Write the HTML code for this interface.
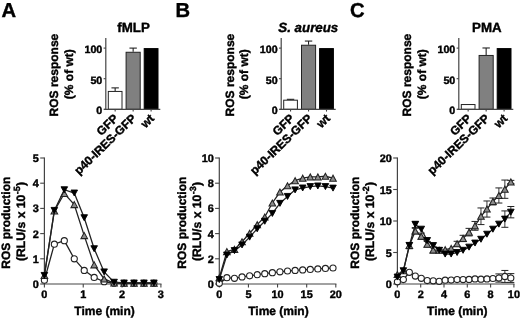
<!DOCTYPE html>
<html><head><meta charset="utf-8"><title>ROS production</title>
<style>html,body{margin:0;padding:0;background:#fff;overflow:hidden}svg{display:block;will-change:transform;filter:grayscale(1)}text{stroke:#000;stroke-width:.4px;text-rendering:geometricPrecision}</style></head>
<body>
<svg width="520" height="320" viewBox="0 0 520 320" font-family='"Liberation Sans", sans-serif' font-weight="bold" fill="#000">
<rect width="520" height="320" fill="#fff"/>
<text x="1.60" y="17.00" font-size="20.2" text-anchor="start">A</text>
<text x="133.50" y="32.40" font-size="13.3" text-anchor="middle">fMLP</text>
<text x="58.30" y="75.10" font-size="12" text-anchor="middle" transform="rotate(-90 58.30 75.10)">ROS response</text>
<text x="72.80" y="74.20" font-size="12" text-anchor="middle" transform="rotate(-90 72.80 74.20)">(% of wt)</text>
<line x1="115.15" y1="90.94" x2="115.15" y2="87.88" stroke="#222" stroke-width="1.1"/>
<line x1="111.45" y1="87.88" x2="118.85" y2="87.88" stroke="#222" stroke-width="1.1"/>
<rect x="108.30" y="91.44" width="13.70" height="17.86" fill="#ffffff" stroke="#222" stroke-width="1"/>
<line x1="115.15" y1="109.30" x2="115.15" y2="111.60" stroke="#444" stroke-width="1.1"/>
<line x1="133.15" y1="51.77" x2="133.15" y2="48.10" stroke="#222" stroke-width="1.1"/>
<line x1="129.45" y1="48.10" x2="136.85" y2="48.10" stroke="#222" stroke-width="1.1"/>
<rect x="126.10" y="52.27" width="14.10" height="57.03" fill="#808080" stroke="#222" stroke-width="1"/>
<line x1="133.15" y1="109.30" x2="133.15" y2="111.60" stroke="#444" stroke-width="1.1"/>
<rect x="144.20" y="48.60" width="13.80" height="60.70" fill="#000000" stroke="#000" stroke-width="1"/>
<line x1="151.10" y1="109.30" x2="151.10" y2="111.60" stroke="#444" stroke-width="1.1"/>
<line x1="105.80" y1="37.90" x2="105.80" y2="109.80" stroke="#444" stroke-width="1.2"/>
<line x1="104.30" y1="109.30" x2="160.30" y2="109.30" stroke="#444" stroke-width="1.2"/>
<line x1="103.60" y1="109.30" x2="105.80" y2="109.30" stroke="#444" stroke-width="1.1"/>
<text x="102.30" y="114.30" font-size="10.7" text-anchor="end">0</text>
<line x1="103.60" y1="78.70" x2="105.80" y2="78.70" stroke="#444" stroke-width="1.1"/>
<text x="102.30" y="83.70" font-size="10.7" text-anchor="end">50</text>
<line x1="103.60" y1="48.10" x2="105.80" y2="48.10" stroke="#444" stroke-width="1.1"/>
<text x="102.30" y="53.10" font-size="10.7" text-anchor="end">100</text>
<text x="118.95" y="119.30" font-size="11.9" text-anchor="end" transform="rotate(-44 118.95 119.30)">GFP</text>
<text x="136.95" y="119.30" font-size="11.9" text-anchor="end" transform="rotate(-44 136.95 119.30)">p40-IRES-GFP</text>
<text x="154.90" y="119.30" font-size="11.9" text-anchor="end" transform="rotate(-44 154.90 119.30)">wt</text>
<text x="10.30" y="222.65" font-size="12" text-anchor="middle" transform="rotate(-90 10.30 222.65)">ROS production</text>
<text x="24.70" y="261.0" font-size="12.2" text-anchor="start" transform="rotate(-90 24.70 261.0)">(RLU/s x 10<tspan font-size="9" dx="0.3" dy="-4.7">-5</tspan><tspan dx="0.4" dy="4.7">)</tspan></text>
<text x="104.55" y="315.40" font-size="12" text-anchor="middle">Time (min)</text>
<line x1="44.40" y1="157.40" x2="44.40" y2="284.60" stroke="#444" stroke-width="1.2"/>
<line x1="44.40" y1="284.00" x2="161.50" y2="284.00" stroke="#444" stroke-width="1.2"/>
<line x1="40.20" y1="284.00" x2="44.40" y2="284.00" stroke="#444" stroke-width="1.1"/>
<text x="38.90" y="288.00" font-size="10.9" text-anchor="end">0</text>
<line x1="40.20" y1="258.80" x2="44.40" y2="258.80" stroke="#444" stroke-width="1.1"/>
<text x="38.90" y="262.80" font-size="10.9" text-anchor="end">1</text>
<line x1="40.20" y1="233.60" x2="44.40" y2="233.60" stroke="#444" stroke-width="1.1"/>
<text x="38.90" y="237.60" font-size="10.9" text-anchor="end">2</text>
<line x1="40.20" y1="208.40" x2="44.40" y2="208.40" stroke="#444" stroke-width="1.1"/>
<text x="38.90" y="212.40" font-size="10.9" text-anchor="end">3</text>
<line x1="40.20" y1="183.20" x2="44.40" y2="183.20" stroke="#444" stroke-width="1.1"/>
<text x="38.90" y="187.20" font-size="10.9" text-anchor="end">4</text>
<line x1="40.20" y1="158.00" x2="44.40" y2="158.00" stroke="#444" stroke-width="1.1"/>
<text x="38.90" y="162.00" font-size="10.9" text-anchor="end">5</text>
<line x1="44.40" y1="284.00" x2="44.40" y2="287.40" stroke="#444" stroke-width="1.1"/>
<text x="44.40" y="298.30" font-size="10.9" text-anchor="middle">0</text>
<line x1="83.23" y1="284.00" x2="83.23" y2="287.40" stroke="#444" stroke-width="1.1"/>
<text x="83.23" y="298.30" font-size="10.9" text-anchor="middle">1</text>
<line x1="122.07" y1="284.00" x2="122.07" y2="287.40" stroke="#444" stroke-width="1.1"/>
<text x="122.07" y="298.30" font-size="10.9" text-anchor="middle">2</text>
<line x1="160.90" y1="284.00" x2="160.90" y2="287.40" stroke="#444" stroke-width="1.1"/>
<text x="160.90" y="298.30" font-size="10.9" text-anchor="middle">3</text>
<polyline points="44.40,280.22 54.35,244.18 64.31,240.66 74.27,258.80 84.22,270.39 94.17,277.45 104.13,281.73 114.09,283.24 124.04,283.24 134.00,283.24 143.95,283.24 153.91,283.24" fill="none" stroke="#222" stroke-width="1.3"/>
<circle cx="44.40" cy="280.22" r="3.05" fill="#fff" stroke="#222" stroke-width="1.1"/>
<circle cx="54.35" cy="244.18" r="3.05" fill="#fff" stroke="#222" stroke-width="1.1"/>
<circle cx="64.31" cy="240.66" r="3.05" fill="#fff" stroke="#222" stroke-width="1.1"/>
<circle cx="74.27" cy="258.80" r="3.05" fill="#fff" stroke="#222" stroke-width="1.1"/>
<circle cx="84.22" cy="270.39" r="3.05" fill="#fff" stroke="#222" stroke-width="1.1"/>
<circle cx="94.17" cy="277.45" r="3.05" fill="#fff" stroke="#222" stroke-width="1.1"/>
<circle cx="104.13" cy="281.73" r="3.05" fill="#fff" stroke="#222" stroke-width="1.1"/>
<circle cx="114.09" cy="283.24" r="3.05" fill="#fff" stroke="#222" stroke-width="1.1"/>
<circle cx="124.04" cy="283.24" r="3.05" fill="#fff" stroke="#222" stroke-width="1.1"/>
<circle cx="134.00" cy="283.24" r="3.05" fill="#fff" stroke="#222" stroke-width="1.1"/>
<circle cx="143.95" cy="283.24" r="3.05" fill="#fff" stroke="#222" stroke-width="1.1"/>
<circle cx="153.91" cy="283.24" r="3.05" fill="#fff" stroke="#222" stroke-width="1.1"/>
<polyline points="44.40,275.43 54.35,210.92 64.31,193.53 74.27,204.62 84.22,235.62 94.17,264.85 104.13,278.96 114.09,282.99 124.04,283.24 134.00,283.24 143.95,283.24 153.91,283.24" fill="none" stroke="#222" stroke-width="1.3"/>
<polygon points="44.40,272.43 41.10,278.43 47.70,278.43" fill="#8c8c8c" stroke="#222" stroke-width="1.05" stroke-linejoin="miter"/>
<polygon points="54.35,207.92 51.05,213.92 57.65,213.92" fill="#8c8c8c" stroke="#222" stroke-width="1.05" stroke-linejoin="miter"/>
<polygon points="64.31,190.53 61.01,196.53 67.61,196.53" fill="#8c8c8c" stroke="#222" stroke-width="1.05" stroke-linejoin="miter"/>
<polygon points="74.27,201.62 70.97,207.62 77.56,207.62" fill="#8c8c8c" stroke="#222" stroke-width="1.05" stroke-linejoin="miter"/>
<polygon points="84.22,232.62 80.92,238.62 87.52,238.62" fill="#8c8c8c" stroke="#222" stroke-width="1.05" stroke-linejoin="miter"/>
<polygon points="94.17,261.85 90.88,267.85 97.47,267.85" fill="#8c8c8c" stroke="#222" stroke-width="1.05" stroke-linejoin="miter"/>
<polygon points="104.13,275.96 100.83,281.96 107.43,281.96" fill="#8c8c8c" stroke="#222" stroke-width="1.05" stroke-linejoin="miter"/>
<polygon points="114.09,279.99 110.79,285.99 117.39,285.99" fill="#8c8c8c" stroke="#222" stroke-width="1.05" stroke-linejoin="miter"/>
<polygon points="124.04,280.24 120.74,286.24 127.34,286.24" fill="#8c8c8c" stroke="#222" stroke-width="1.05" stroke-linejoin="miter"/>
<polygon points="134.00,280.24 130.69,286.24 137.30,286.24" fill="#8c8c8c" stroke="#222" stroke-width="1.05" stroke-linejoin="miter"/>
<polygon points="143.95,280.24 140.65,286.24 147.25,286.24" fill="#8c8c8c" stroke="#222" stroke-width="1.05" stroke-linejoin="miter"/>
<polygon points="153.91,280.24 150.60,286.24 157.21,286.24" fill="#8c8c8c" stroke="#222" stroke-width="1.05" stroke-linejoin="miter"/>
<polyline points="44.40,275.43 54.35,210.42 64.31,189.75 74.27,193.03 84.22,217.72 94.17,248.72 104.13,271.90 114.09,282.24 124.04,282.99 134.00,282.99 143.95,282.99 153.91,282.99" fill="none" stroke="#222" stroke-width="1.3"/>
<polygon points="44.40,278.43 41.10,272.43 47.70,272.43" fill="#000" stroke="#000" stroke-width="0.9"/>
<polygon points="54.35,213.42 51.05,207.42 57.65,207.42" fill="#000" stroke="#000" stroke-width="0.9"/>
<polygon points="64.31,192.75 61.01,186.75 67.61,186.75" fill="#000" stroke="#000" stroke-width="0.9"/>
<polygon points="74.27,196.03 70.97,190.03 77.56,190.03" fill="#000" stroke="#000" stroke-width="0.9"/>
<polygon points="84.22,220.72 80.92,214.72 87.52,214.72" fill="#000" stroke="#000" stroke-width="0.9"/>
<polygon points="94.17,251.72 90.88,245.72 97.47,245.72" fill="#000" stroke="#000" stroke-width="0.9"/>
<polygon points="104.13,274.90 100.83,268.90 107.43,268.90" fill="#000" stroke="#000" stroke-width="0.9"/>
<polygon points="114.09,285.24 110.79,279.24 117.39,279.24" fill="#000" stroke="#000" stroke-width="0.9"/>
<polygon points="124.04,285.99 120.74,279.99 127.34,279.99" fill="#000" stroke="#000" stroke-width="0.9"/>
<polygon points="134.00,285.99 130.69,279.99 137.30,279.99" fill="#000" stroke="#000" stroke-width="0.9"/>
<polygon points="143.95,285.99 140.65,279.99 147.25,279.99" fill="#000" stroke="#000" stroke-width="0.9"/>
<polygon points="153.91,285.99 150.60,279.99 157.21,279.99" fill="#000" stroke="#000" stroke-width="0.9"/>
<text x="175.60" y="17.00" font-size="20.2" text-anchor="start">B</text>
<text x="308.30" y="32.40" font-size="13.3" text-anchor="middle" font-style="italic">S. aureus</text>
<text x="233.70" y="75.10" font-size="12" text-anchor="middle" transform="rotate(-90 233.70 75.10)">ROS response</text>
<text x="248.20" y="74.20" font-size="12" text-anchor="middle" transform="rotate(-90 248.20 74.20)">(% of wt)</text>
<line x1="290.55" y1="99.69" x2="290.55" y2="99.32" stroke="#222" stroke-width="1.1"/>
<line x1="286.85" y1="99.32" x2="294.25" y2="99.32" stroke="#222" stroke-width="1.1"/>
<rect x="283.70" y="100.19" width="13.70" height="9.11" fill="#ffffff" stroke="#222" stroke-width="1"/>
<line x1="290.55" y1="109.30" x2="290.55" y2="111.60" stroke="#444" stroke-width="1.1"/>
<line x1="308.55" y1="44.73" x2="308.55" y2="41.06" stroke="#222" stroke-width="1.1"/>
<line x1="304.85" y1="41.06" x2="312.25" y2="41.06" stroke="#222" stroke-width="1.1"/>
<rect x="301.50" y="45.23" width="14.10" height="64.07" fill="#808080" stroke="#222" stroke-width="1"/>
<line x1="308.55" y1="109.30" x2="308.55" y2="111.60" stroke="#444" stroke-width="1.1"/>
<rect x="319.60" y="48.60" width="13.80" height="60.70" fill="#000000" stroke="#000" stroke-width="1"/>
<line x1="326.50" y1="109.30" x2="326.50" y2="111.60" stroke="#444" stroke-width="1.1"/>
<line x1="281.20" y1="37.90" x2="281.20" y2="109.80" stroke="#444" stroke-width="1.2"/>
<line x1="279.70" y1="109.30" x2="335.70" y2="109.30" stroke="#444" stroke-width="1.2"/>
<line x1="279.00" y1="109.30" x2="281.20" y2="109.30" stroke="#444" stroke-width="1.1"/>
<text x="277.70" y="114.30" font-size="10.7" text-anchor="end">0</text>
<line x1="279.00" y1="78.70" x2="281.20" y2="78.70" stroke="#444" stroke-width="1.1"/>
<text x="277.70" y="83.70" font-size="10.7" text-anchor="end">50</text>
<line x1="279.00" y1="48.10" x2="281.20" y2="48.10" stroke="#444" stroke-width="1.1"/>
<text x="277.70" y="53.10" font-size="10.7" text-anchor="end">100</text>
<text x="294.85" y="119.30" font-size="11.9" text-anchor="end" transform="rotate(-44 294.85 119.30)">GFP</text>
<text x="312.85" y="119.30" font-size="11.9" text-anchor="end" transform="rotate(-44 312.85 119.30)">p40-IRES-GFP</text>
<text x="330.80" y="119.30" font-size="11.9" text-anchor="end" transform="rotate(-44 330.80 119.30)">wt</text>
<text x="186.50" y="222.65" font-size="12" text-anchor="middle" transform="rotate(-90 186.50 222.65)">ROS production</text>
<text x="200.90" y="261.0" font-size="12.2" text-anchor="start" transform="rotate(-90 200.90 261.0)">(RLU/s x 10<tspan font-size="9" dx="0.3" dy="-4.7">-3</tspan><tspan dx="0.4" dy="4.7">)</tspan></text>
<text x="278.45" y="315.40" font-size="12" text-anchor="middle">Time (min)</text>
<line x1="219.30" y1="157.40" x2="219.30" y2="284.60" stroke="#444" stroke-width="1.2"/>
<line x1="219.30" y1="284.00" x2="336.40" y2="284.00" stroke="#444" stroke-width="1.2"/>
<line x1="215.10" y1="284.00" x2="219.30" y2="284.00" stroke="#444" stroke-width="1.1"/>
<text x="213.80" y="288.00" font-size="10.9" text-anchor="end">0</text>
<line x1="215.10" y1="258.80" x2="219.30" y2="258.80" stroke="#444" stroke-width="1.1"/>
<text x="213.80" y="262.80" font-size="10.9" text-anchor="end">2</text>
<line x1="215.10" y1="233.60" x2="219.30" y2="233.60" stroke="#444" stroke-width="1.1"/>
<text x="213.80" y="237.60" font-size="10.9" text-anchor="end">4</text>
<line x1="215.10" y1="208.40" x2="219.30" y2="208.40" stroke="#444" stroke-width="1.1"/>
<text x="213.80" y="212.40" font-size="10.9" text-anchor="end">6</text>
<line x1="215.10" y1="183.20" x2="219.30" y2="183.20" stroke="#444" stroke-width="1.1"/>
<text x="213.80" y="187.20" font-size="10.9" text-anchor="end">8</text>
<line x1="215.10" y1="158.00" x2="219.30" y2="158.00" stroke="#444" stroke-width="1.1"/>
<text x="213.80" y="162.00" font-size="10.9" text-anchor="end">10</text>
<line x1="219.30" y1="284.00" x2="219.30" y2="287.40" stroke="#444" stroke-width="1.1"/>
<text x="219.30" y="298.30" font-size="10.9" text-anchor="middle">0</text>
<line x1="248.43" y1="284.00" x2="248.43" y2="287.40" stroke="#444" stroke-width="1.1"/>
<text x="248.43" y="298.30" font-size="10.9" text-anchor="middle">5</text>
<line x1="277.55" y1="284.00" x2="277.55" y2="287.40" stroke="#444" stroke-width="1.1"/>
<text x="277.55" y="298.30" font-size="10.9" text-anchor="middle">10</text>
<line x1="306.68" y1="284.00" x2="306.68" y2="287.40" stroke="#444" stroke-width="1.1"/>
<text x="306.68" y="298.30" font-size="10.9" text-anchor="middle">15</text>
<line x1="335.80" y1="284.00" x2="335.80" y2="287.40" stroke="#444" stroke-width="1.1"/>
<text x="335.80" y="298.30" font-size="10.9" text-anchor="middle">20</text>
<polyline points="219.30,283.37 226.88,277.70 234.46,278.33 242.04,276.94 249.62,275.81 257.20,274.68 264.78,273.67 272.36,272.66 279.94,271.78 287.52,271.02 295.10,270.39 302.68,269.89 310.26,269.38 317.84,268.88 325.42,268.38 333.00,268.00" fill="none" stroke="#222" stroke-width="1.3"/>
<circle cx="219.30" cy="283.37" r="3.05" fill="#fff" stroke="#222" stroke-width="1.1"/>
<circle cx="226.88" cy="277.70" r="3.05" fill="#fff" stroke="#222" stroke-width="1.1"/>
<circle cx="234.46" cy="278.33" r="3.05" fill="#fff" stroke="#222" stroke-width="1.1"/>
<circle cx="242.04" cy="276.94" r="3.05" fill="#fff" stroke="#222" stroke-width="1.1"/>
<circle cx="249.62" cy="275.81" r="3.05" fill="#fff" stroke="#222" stroke-width="1.1"/>
<circle cx="257.20" cy="274.68" r="3.05" fill="#fff" stroke="#222" stroke-width="1.1"/>
<circle cx="264.78" cy="273.67" r="3.05" fill="#fff" stroke="#222" stroke-width="1.1"/>
<circle cx="272.36" cy="272.66" r="3.05" fill="#fff" stroke="#222" stroke-width="1.1"/>
<circle cx="279.94" cy="271.78" r="3.05" fill="#fff" stroke="#222" stroke-width="1.1"/>
<circle cx="287.52" cy="271.02" r="3.05" fill="#fff" stroke="#222" stroke-width="1.1"/>
<circle cx="295.10" cy="270.39" r="3.05" fill="#fff" stroke="#222" stroke-width="1.1"/>
<circle cx="302.68" cy="269.89" r="3.05" fill="#fff" stroke="#222" stroke-width="1.1"/>
<circle cx="310.26" cy="269.38" r="3.05" fill="#fff" stroke="#222" stroke-width="1.1"/>
<circle cx="317.84" cy="268.88" r="3.05" fill="#fff" stroke="#222" stroke-width="1.1"/>
<circle cx="325.42" cy="268.38" r="3.05" fill="#fff" stroke="#222" stroke-width="1.1"/>
<circle cx="333.00" cy="268.00" r="3.05" fill="#fff" stroke="#222" stroke-width="1.1"/>
<polyline points="219.30,277.70 226.88,251.62 234.46,249.35 242.04,241.79 249.62,233.22 257.20,224.65 264.78,216.97 272.36,202.98 279.94,192.02 287.52,185.72 295.10,180.68 302.68,178.16 310.26,176.90 317.84,176.90 325.42,176.27 333.00,178.16" fill="none" stroke="#222" stroke-width="1.3"/>
<polygon points="219.30,274.70 216.00,280.70 222.60,280.70" fill="#8c8c8c" stroke="#222" stroke-width="1.05" stroke-linejoin="miter"/>
<polygon points="226.88,248.62 223.58,254.62 230.18,254.62" fill="#8c8c8c" stroke="#222" stroke-width="1.05" stroke-linejoin="miter"/>
<polygon points="234.46,246.35 231.16,252.35 237.76,252.35" fill="#8c8c8c" stroke="#222" stroke-width="1.05" stroke-linejoin="miter"/>
<polygon points="242.04,238.79 238.74,244.79 245.34,244.79" fill="#8c8c8c" stroke="#222" stroke-width="1.05" stroke-linejoin="miter"/>
<polygon points="249.62,230.22 246.32,236.22 252.92,236.22" fill="#8c8c8c" stroke="#222" stroke-width="1.05" stroke-linejoin="miter"/>
<polygon points="257.20,221.65 253.90,227.65 260.50,227.65" fill="#8c8c8c" stroke="#222" stroke-width="1.05" stroke-linejoin="miter"/>
<polygon points="264.78,213.97 261.48,219.97 268.08,219.97" fill="#8c8c8c" stroke="#222" stroke-width="1.05" stroke-linejoin="miter"/>
<polygon points="272.36,199.98 269.06,205.98 275.66,205.98" fill="#8c8c8c" stroke="#222" stroke-width="1.05" stroke-linejoin="miter"/>
<polygon points="279.94,189.02 276.64,195.02 283.24,195.02" fill="#8c8c8c" stroke="#222" stroke-width="1.05" stroke-linejoin="miter"/>
<polygon points="287.52,182.72 284.22,188.72 290.82,188.72" fill="#8c8c8c" stroke="#222" stroke-width="1.05" stroke-linejoin="miter"/>
<polygon points="295.10,177.68 291.80,183.68 298.40,183.68" fill="#8c8c8c" stroke="#222" stroke-width="1.05" stroke-linejoin="miter"/>
<polygon points="302.68,175.16 299.38,181.16 305.98,181.16" fill="#8c8c8c" stroke="#222" stroke-width="1.05" stroke-linejoin="miter"/>
<polygon points="310.26,173.90 306.96,179.90 313.56,179.90" fill="#8c8c8c" stroke="#222" stroke-width="1.05" stroke-linejoin="miter"/>
<polygon points="317.84,173.90 314.54,179.90 321.14,179.90" fill="#8c8c8c" stroke="#222" stroke-width="1.05" stroke-linejoin="miter"/>
<polygon points="325.42,173.27 322.12,179.27 328.72,179.27" fill="#8c8c8c" stroke="#222" stroke-width="1.05" stroke-linejoin="miter"/>
<polygon points="333.00,175.16 329.70,181.16 336.30,181.16" fill="#8c8c8c" stroke="#222" stroke-width="1.05" stroke-linejoin="miter"/>
<polyline points="219.30,279.59 226.88,255.02 234.46,250.61 242.04,244.94 249.62,237.13 257.20,228.81 264.78,221.25 272.36,213.44 279.94,203.36 287.52,196.43 295.10,189.88 302.68,187.99 310.26,186.60 317.84,185.97 325.42,186.60 333.00,188.11" fill="none" stroke="#222" stroke-width="1.3"/>
<polygon points="219.30,282.59 216.00,276.59 222.60,276.59" fill="#000" stroke="#000" stroke-width="0.9"/>
<polygon points="226.88,258.02 223.58,252.02 230.18,252.02" fill="#000" stroke="#000" stroke-width="0.9"/>
<polygon points="234.46,253.61 231.16,247.61 237.76,247.61" fill="#000" stroke="#000" stroke-width="0.9"/>
<polygon points="242.04,247.94 238.74,241.94 245.34,241.94" fill="#000" stroke="#000" stroke-width="0.9"/>
<polygon points="249.62,240.13 246.32,234.13 252.92,234.13" fill="#000" stroke="#000" stroke-width="0.9"/>
<polygon points="257.20,231.81 253.90,225.81 260.50,225.81" fill="#000" stroke="#000" stroke-width="0.9"/>
<polygon points="264.78,224.25 261.48,218.25 268.08,218.25" fill="#000" stroke="#000" stroke-width="0.9"/>
<polygon points="272.36,216.44 269.06,210.44 275.66,210.44" fill="#000" stroke="#000" stroke-width="0.9"/>
<polygon points="279.94,206.36 276.64,200.36 283.24,200.36" fill="#000" stroke="#000" stroke-width="0.9"/>
<polygon points="287.52,199.43 284.22,193.43 290.82,193.43" fill="#000" stroke="#000" stroke-width="0.9"/>
<polygon points="295.10,192.88 291.80,186.88 298.40,186.88" fill="#000" stroke="#000" stroke-width="0.9"/>
<polygon points="302.68,190.99 299.38,184.99 305.98,184.99" fill="#000" stroke="#000" stroke-width="0.9"/>
<polygon points="310.26,189.60 306.96,183.60 313.56,183.60" fill="#000" stroke="#000" stroke-width="0.9"/>
<polygon points="317.84,188.97 314.54,182.97 321.14,182.97" fill="#000" stroke="#000" stroke-width="0.9"/>
<polygon points="325.42,189.60 322.12,183.60 328.72,183.60" fill="#000" stroke="#000" stroke-width="0.9"/>
<polygon points="333.00,191.11 329.70,185.11 336.30,185.11" fill="#000" stroke="#000" stroke-width="0.9"/>
<text x="350.10" y="17.00" font-size="20.2" text-anchor="start">C</text>
<text x="486.90" y="32.40" font-size="13.3" text-anchor="middle">PMA</text>
<text x="411.30" y="75.10" font-size="12" text-anchor="middle" transform="rotate(-90 411.30 75.10)">ROS response</text>
<text x="425.80" y="74.20" font-size="12" text-anchor="middle" transform="rotate(-90 425.80 74.20)">(% of wt)</text>
<rect x="461.30" y="104.54" width="13.70" height="4.76" fill="#ffffff" stroke="#222" stroke-width="1"/>
<line x1="468.15" y1="109.30" x2="468.15" y2="111.60" stroke="#444" stroke-width="1.1"/>
<line x1="486.15" y1="54.95" x2="486.15" y2="47.98" stroke="#222" stroke-width="1.1"/>
<line x1="482.45" y1="47.98" x2="489.85" y2="47.98" stroke="#222" stroke-width="1.1"/>
<rect x="479.10" y="55.45" width="14.10" height="53.85" fill="#808080" stroke="#222" stroke-width="1"/>
<line x1="486.15" y1="109.30" x2="486.15" y2="111.60" stroke="#444" stroke-width="1.1"/>
<rect x="497.20" y="48.60" width="13.80" height="60.70" fill="#000000" stroke="#000" stroke-width="1"/>
<line x1="504.10" y1="109.30" x2="504.10" y2="111.60" stroke="#444" stroke-width="1.1"/>
<line x1="458.80" y1="37.90" x2="458.80" y2="109.80" stroke="#444" stroke-width="1.2"/>
<line x1="457.30" y1="109.30" x2="513.30" y2="109.30" stroke="#444" stroke-width="1.2"/>
<line x1="456.60" y1="109.30" x2="458.80" y2="109.30" stroke="#444" stroke-width="1.1"/>
<text x="455.30" y="114.30" font-size="10.7" text-anchor="end">0</text>
<line x1="456.60" y1="78.70" x2="458.80" y2="78.70" stroke="#444" stroke-width="1.1"/>
<text x="455.30" y="83.70" font-size="10.7" text-anchor="end">50</text>
<line x1="456.60" y1="48.10" x2="458.80" y2="48.10" stroke="#444" stroke-width="1.1"/>
<text x="455.30" y="53.10" font-size="10.7" text-anchor="end">100</text>
<text x="472.25" y="119.30" font-size="11.9" text-anchor="end" transform="rotate(-44 472.25 119.30)">GFP</text>
<text x="490.25" y="119.30" font-size="11.9" text-anchor="end" transform="rotate(-44 490.25 119.30)">p40-IRES-GFP</text>
<text x="508.20" y="119.30" font-size="11.9" text-anchor="end" transform="rotate(-44 508.20 119.30)">wt</text>
<text x="359.10" y="222.65" font-size="12" text-anchor="middle" transform="rotate(-90 359.10 222.65)">ROS production</text>
<text x="373.50" y="261.0" font-size="12.2" text-anchor="start" transform="rotate(-90 373.50 261.0)">(RLU/s x 10<tspan font-size="9" dx="0.3" dy="-4.7">-2</tspan><tspan dx="0.4" dy="4.7">)</tspan></text>
<text x="457.25" y="315.40" font-size="12" text-anchor="middle">Time (min)</text>
<line x1="397.40" y1="157.40" x2="397.40" y2="284.60" stroke="#444" stroke-width="1.2"/>
<line x1="397.40" y1="284.00" x2="514.50" y2="284.00" stroke="#444" stroke-width="1.2"/>
<line x1="393.20" y1="284.00" x2="397.40" y2="284.00" stroke="#444" stroke-width="1.1"/>
<text x="391.90" y="288.00" font-size="10.9" text-anchor="end">0</text>
<line x1="393.20" y1="252.50" x2="397.40" y2="252.50" stroke="#444" stroke-width="1.1"/>
<text x="391.90" y="256.50" font-size="10.9" text-anchor="end">5</text>
<line x1="393.20" y1="221.00" x2="397.40" y2="221.00" stroke="#444" stroke-width="1.1"/>
<text x="391.90" y="225.00" font-size="10.9" text-anchor="end">10</text>
<line x1="393.20" y1="189.50" x2="397.40" y2="189.50" stroke="#444" stroke-width="1.1"/>
<text x="391.90" y="193.50" font-size="10.9" text-anchor="end">15</text>
<line x1="393.20" y1="158.00" x2="397.40" y2="158.00" stroke="#444" stroke-width="1.1"/>
<text x="391.90" y="162.00" font-size="10.9" text-anchor="end">20</text>
<line x1="397.40" y1="284.00" x2="397.40" y2="287.40" stroke="#444" stroke-width="1.1"/>
<text x="397.40" y="298.30" font-size="10.9" text-anchor="middle">0</text>
<line x1="420.70" y1="284.00" x2="420.70" y2="287.40" stroke="#444" stroke-width="1.1"/>
<text x="420.70" y="298.30" font-size="10.9" text-anchor="middle">2</text>
<line x1="444.00" y1="284.00" x2="444.00" y2="287.40" stroke="#444" stroke-width="1.1"/>
<text x="444.00" y="298.30" font-size="10.9" text-anchor="middle">4</text>
<line x1="467.30" y1="284.00" x2="467.30" y2="287.40" stroke="#444" stroke-width="1.1"/>
<text x="467.30" y="298.30" font-size="10.9" text-anchor="middle">6</text>
<line x1="490.60" y1="284.00" x2="490.60" y2="287.40" stroke="#444" stroke-width="1.1"/>
<text x="490.60" y="298.30" font-size="10.9" text-anchor="middle">8</text>
<line x1="513.90" y1="284.00" x2="513.90" y2="287.40" stroke="#444" stroke-width="1.1"/>
<text x="513.90" y="298.30" font-size="10.9" text-anchor="middle">10</text>
<polyline points="397.40,281.80 403.37,279.59 409.34,272.35 415.31,276.12 421.28,278.33 427.25,280.54 433.22,280.85 439.19,281.35 445.16,280.22 451.13,280.09 457.10,279.59 463.07,279.53 469.04,279.46 475.01,278.96 480.98,279.21 486.95,278.90 492.92,278.52 498.89,278.01 504.86,276.44 510.83,278.01" fill="none" stroke="#222" stroke-width="1.3"/>
<line x1="498.89" y1="282.11" x2="498.89" y2="273.92" stroke="#222" stroke-width="0.9"/>
<line x1="495.39" y1="273.92" x2="502.39" y2="273.92" stroke="#222" stroke-width="1.0"/>
<line x1="495.39" y1="282.11" x2="502.39" y2="282.11" stroke="#222" stroke-width="1.0"/>
<line x1="504.86" y1="282.43" x2="504.86" y2="270.45" stroke="#222" stroke-width="0.9"/>
<line x1="501.36" y1="270.45" x2="508.36" y2="270.45" stroke="#222" stroke-width="1.0"/>
<line x1="501.36" y1="282.43" x2="508.36" y2="282.43" stroke="#222" stroke-width="1.0"/>
<line x1="510.83" y1="282.43" x2="510.83" y2="273.61" stroke="#222" stroke-width="0.9"/>
<line x1="507.33" y1="273.61" x2="514.33" y2="273.61" stroke="#222" stroke-width="1.0"/>
<line x1="507.33" y1="282.43" x2="514.33" y2="282.43" stroke="#222" stroke-width="1.0"/>
<circle cx="397.40" cy="281.80" r="3.05" fill="#fff" stroke="#222" stroke-width="1.1"/>
<circle cx="403.37" cy="279.59" r="3.05" fill="#fff" stroke="#222" stroke-width="1.1"/>
<circle cx="409.34" cy="272.35" r="3.05" fill="#fff" stroke="#222" stroke-width="1.1"/>
<circle cx="415.31" cy="276.12" r="3.05" fill="#fff" stroke="#222" stroke-width="1.1"/>
<circle cx="421.28" cy="278.33" r="3.05" fill="#fff" stroke="#222" stroke-width="1.1"/>
<circle cx="427.25" cy="280.54" r="3.05" fill="#fff" stroke="#222" stroke-width="1.1"/>
<circle cx="433.22" cy="280.85" r="3.05" fill="#fff" stroke="#222" stroke-width="1.1"/>
<circle cx="439.19" cy="281.35" r="3.05" fill="#fff" stroke="#222" stroke-width="1.1"/>
<circle cx="445.16" cy="280.22" r="3.05" fill="#fff" stroke="#222" stroke-width="1.1"/>
<circle cx="451.13" cy="280.09" r="3.05" fill="#fff" stroke="#222" stroke-width="1.1"/>
<circle cx="457.10" cy="279.59" r="3.05" fill="#fff" stroke="#222" stroke-width="1.1"/>
<circle cx="463.07" cy="279.53" r="3.05" fill="#fff" stroke="#222" stroke-width="1.1"/>
<circle cx="469.04" cy="279.46" r="3.05" fill="#fff" stroke="#222" stroke-width="1.1"/>
<circle cx="475.01" cy="278.96" r="3.05" fill="#fff" stroke="#222" stroke-width="1.1"/>
<circle cx="480.98" cy="279.21" r="3.05" fill="#fff" stroke="#222" stroke-width="1.1"/>
<circle cx="486.95" cy="278.90" r="3.05" fill="#fff" stroke="#222" stroke-width="1.1"/>
<circle cx="492.92" cy="278.52" r="3.05" fill="#fff" stroke="#222" stroke-width="1.1"/>
<circle cx="498.89" cy="278.01" r="3.05" fill="#fff" stroke="#222" stroke-width="1.1"/>
<circle cx="504.86" cy="276.44" r="3.05" fill="#fff" stroke="#222" stroke-width="1.1"/>
<circle cx="510.83" cy="278.01" r="3.05" fill="#fff" stroke="#222" stroke-width="1.1"/>
<polyline points="397.40,274.55 403.37,270.77 409.34,245.57 415.31,231.08 421.28,236.25 427.25,244.31 433.22,249.98 439.19,250.30 445.16,249.66 451.13,248.41 457.10,243.81 463.07,238.45 469.04,232.15 475.01,225.85 480.98,216.28 486.95,209.03 492.92,201.47 498.89,195.49 504.86,189.19 510.83,181.94" fill="none" stroke="#222" stroke-width="1.3"/>
<line x1="415.31" y1="233.91" x2="415.31" y2="228.25" stroke="#222" stroke-width="0.9"/>
<line x1="411.81" y1="228.25" x2="418.81" y2="228.25" stroke="#222" stroke-width="1.0"/>
<line x1="411.81" y1="233.91" x2="418.81" y2="233.91" stroke="#222" stroke-width="1.0"/>
<line x1="421.28" y1="239.40" x2="421.28" y2="233.10" stroke="#222" stroke-width="0.9"/>
<line x1="417.78" y1="233.10" x2="424.78" y2="233.10" stroke="#222" stroke-width="1.0"/>
<line x1="417.78" y1="239.40" x2="424.78" y2="239.40" stroke="#222" stroke-width="1.0"/>
<line x1="427.25" y1="247.15" x2="427.25" y2="241.47" stroke="#222" stroke-width="0.9"/>
<line x1="423.75" y1="241.47" x2="430.75" y2="241.47" stroke="#222" stroke-width="1.0"/>
<line x1="423.75" y1="247.15" x2="430.75" y2="247.15" stroke="#222" stroke-width="1.0"/>
<line x1="433.22" y1="253.13" x2="433.22" y2="246.83" stroke="#222" stroke-width="0.9"/>
<line x1="429.72" y1="246.83" x2="436.72" y2="246.83" stroke="#222" stroke-width="1.0"/>
<line x1="429.72" y1="253.13" x2="436.72" y2="253.13" stroke="#222" stroke-width="1.0"/>
<line x1="439.19" y1="252.81" x2="439.19" y2="247.78" stroke="#222" stroke-width="0.9"/>
<line x1="435.69" y1="247.78" x2="442.69" y2="247.78" stroke="#222" stroke-width="1.0"/>
<line x1="435.69" y1="252.81" x2="442.69" y2="252.81" stroke="#222" stroke-width="1.0"/>
<line x1="457.10" y1="246.33" x2="457.10" y2="241.29" stroke="#222" stroke-width="0.9"/>
<line x1="453.60" y1="241.29" x2="460.60" y2="241.29" stroke="#222" stroke-width="1.0"/>
<line x1="453.60" y1="246.33" x2="460.60" y2="246.33" stroke="#222" stroke-width="1.0"/>
<line x1="463.07" y1="241.60" x2="463.07" y2="235.30" stroke="#222" stroke-width="0.9"/>
<line x1="459.57" y1="235.30" x2="466.57" y2="235.30" stroke="#222" stroke-width="1.0"/>
<line x1="459.57" y1="241.60" x2="466.57" y2="241.60" stroke="#222" stroke-width="1.0"/>
<line x1="469.04" y1="235.93" x2="469.04" y2="228.37" stroke="#222" stroke-width="0.9"/>
<line x1="465.54" y1="228.37" x2="472.54" y2="228.37" stroke="#222" stroke-width="1.0"/>
<line x1="465.54" y1="235.93" x2="472.54" y2="235.93" stroke="#222" stroke-width="1.0"/>
<line x1="475.01" y1="230.26" x2="475.01" y2="221.44" stroke="#222" stroke-width="0.9"/>
<line x1="471.51" y1="221.44" x2="478.51" y2="221.44" stroke="#222" stroke-width="1.0"/>
<line x1="471.51" y1="230.26" x2="478.51" y2="230.26" stroke="#222" stroke-width="1.0"/>
<line x1="480.98" y1="224.59" x2="480.98" y2="207.96" stroke="#222" stroke-width="0.9"/>
<line x1="477.48" y1="207.96" x2="484.48" y2="207.96" stroke="#222" stroke-width="1.0"/>
<line x1="477.48" y1="224.59" x2="484.48" y2="224.59" stroke="#222" stroke-width="1.0"/>
<line x1="486.95" y1="217.09" x2="486.95" y2="200.97" stroke="#222" stroke-width="0.9"/>
<line x1="483.45" y1="200.97" x2="490.45" y2="200.97" stroke="#222" stroke-width="1.0"/>
<line x1="483.45" y1="217.09" x2="490.45" y2="217.09" stroke="#222" stroke-width="1.0"/>
<line x1="492.92" y1="204.94" x2="492.92" y2="198.00" stroke="#222" stroke-width="0.9"/>
<line x1="489.42" y1="198.00" x2="496.42" y2="198.00" stroke="#222" stroke-width="1.0"/>
<line x1="489.42" y1="204.94" x2="496.42" y2="204.94" stroke="#222" stroke-width="1.0"/>
<line x1="498.89" y1="203.04" x2="498.89" y2="187.93" stroke="#222" stroke-width="0.9"/>
<line x1="495.39" y1="187.93" x2="502.39" y2="187.93" stroke="#222" stroke-width="1.0"/>
<line x1="495.39" y1="203.04" x2="502.39" y2="203.04" stroke="#222" stroke-width="1.0"/>
<line x1="504.86" y1="198.32" x2="504.86" y2="180.05" stroke="#222" stroke-width="0.9"/>
<line x1="501.36" y1="180.05" x2="508.36" y2="180.05" stroke="#222" stroke-width="1.0"/>
<line x1="501.36" y1="198.32" x2="508.36" y2="198.32" stroke="#222" stroke-width="1.0"/>
<line x1="510.83" y1="183.51" x2="510.83" y2="180.37" stroke="#222" stroke-width="0.9"/>
<line x1="507.33" y1="180.37" x2="514.33" y2="180.37" stroke="#222" stroke-width="1.0"/>
<line x1="507.33" y1="183.51" x2="514.33" y2="183.51" stroke="#222" stroke-width="1.0"/>
<polygon points="397.40,271.55 394.10,277.55 400.70,277.55" fill="#8c8c8c" stroke="#222" stroke-width="1.05" stroke-linejoin="miter"/>
<polygon points="403.37,267.77 400.07,273.77 406.67,273.77" fill="#8c8c8c" stroke="#222" stroke-width="1.05" stroke-linejoin="miter"/>
<polygon points="409.34,242.57 406.04,248.57 412.64,248.57" fill="#8c8c8c" stroke="#222" stroke-width="1.05" stroke-linejoin="miter"/>
<polygon points="415.31,228.08 412.01,234.08 418.61,234.08" fill="#8c8c8c" stroke="#222" stroke-width="1.05" stroke-linejoin="miter"/>
<polygon points="421.28,233.25 417.98,239.25 424.58,239.25" fill="#8c8c8c" stroke="#222" stroke-width="1.05" stroke-linejoin="miter"/>
<polygon points="427.25,241.31 423.95,247.31 430.55,247.31" fill="#8c8c8c" stroke="#222" stroke-width="1.05" stroke-linejoin="miter"/>
<polygon points="433.22,246.98 429.92,252.98 436.52,252.98" fill="#8c8c8c" stroke="#222" stroke-width="1.05" stroke-linejoin="miter"/>
<polygon points="439.19,247.30 435.89,253.30 442.49,253.30" fill="#8c8c8c" stroke="#222" stroke-width="1.05" stroke-linejoin="miter"/>
<polygon points="445.16,246.66 441.86,252.66 448.46,252.66" fill="#8c8c8c" stroke="#222" stroke-width="1.05" stroke-linejoin="miter"/>
<polygon points="451.13,245.41 447.83,251.41 454.43,251.41" fill="#8c8c8c" stroke="#222" stroke-width="1.05" stroke-linejoin="miter"/>
<polygon points="457.10,240.81 453.80,246.81 460.40,246.81" fill="#8c8c8c" stroke="#222" stroke-width="1.05" stroke-linejoin="miter"/>
<polygon points="463.07,235.45 459.77,241.45 466.37,241.45" fill="#8c8c8c" stroke="#222" stroke-width="1.05" stroke-linejoin="miter"/>
<polygon points="469.04,229.15 465.74,235.15 472.34,235.15" fill="#8c8c8c" stroke="#222" stroke-width="1.05" stroke-linejoin="miter"/>
<polygon points="475.01,222.85 471.71,228.85 478.31,228.85" fill="#8c8c8c" stroke="#222" stroke-width="1.05" stroke-linejoin="miter"/>
<polygon points="480.98,213.28 477.68,219.28 484.28,219.28" fill="#8c8c8c" stroke="#222" stroke-width="1.05" stroke-linejoin="miter"/>
<polygon points="486.95,206.03 483.65,212.03 490.25,212.03" fill="#8c8c8c" stroke="#222" stroke-width="1.05" stroke-linejoin="miter"/>
<polygon points="492.92,198.47 489.62,204.47 496.22,204.47" fill="#8c8c8c" stroke="#222" stroke-width="1.05" stroke-linejoin="miter"/>
<polygon points="498.89,192.49 495.59,198.49 502.19,198.49" fill="#8c8c8c" stroke="#222" stroke-width="1.05" stroke-linejoin="miter"/>
<polygon points="504.86,186.19 501.56,192.19 508.16,192.19" fill="#8c8c8c" stroke="#222" stroke-width="1.05" stroke-linejoin="miter"/>
<polygon points="510.83,178.94 507.53,184.94 514.13,184.94" fill="#8c8c8c" stroke="#222" stroke-width="1.05" stroke-linejoin="miter"/>
<polyline points="397.40,277.07 403.37,270.77 409.34,245.57 415.31,224.47 421.28,229.19 427.25,240.53 433.22,245.57 439.19,250.30 445.16,254.07 451.13,254.07 457.10,252.50 463.07,250.30 469.04,247.15 475.01,243.05 480.98,239.27 486.95,234.23 492.92,229.19 498.89,224.15 504.86,219.11 510.83,212.18" fill="none" stroke="#222" stroke-width="1.3"/>
<line x1="409.34" y1="248.72" x2="409.34" y2="242.42" stroke="#222" stroke-width="0.9"/>
<line x1="405.84" y1="242.42" x2="412.84" y2="242.42" stroke="#222" stroke-width="1.0"/>
<line x1="405.84" y1="248.72" x2="412.84" y2="248.72" stroke="#222" stroke-width="1.0"/>
<line x1="415.31" y1="227.62" x2="415.31" y2="221.31" stroke="#222" stroke-width="0.9"/>
<line x1="411.81" y1="221.31" x2="418.81" y2="221.31" stroke="#222" stroke-width="1.0"/>
<line x1="411.81" y1="227.62" x2="418.81" y2="227.62" stroke="#222" stroke-width="1.0"/>
<line x1="504.86" y1="227.30" x2="504.86" y2="210.92" stroke="#222" stroke-width="0.9"/>
<line x1="501.36" y1="210.92" x2="508.36" y2="210.92" stroke="#222" stroke-width="1.0"/>
<line x1="501.36" y1="227.30" x2="508.36" y2="227.30" stroke="#222" stroke-width="1.0"/>
<line x1="510.83" y1="217.85" x2="510.83" y2="206.51" stroke="#222" stroke-width="0.9"/>
<line x1="507.33" y1="206.51" x2="514.33" y2="206.51" stroke="#222" stroke-width="1.0"/>
<line x1="507.33" y1="217.85" x2="514.33" y2="217.85" stroke="#222" stroke-width="1.0"/>
<polygon points="397.40,280.07 394.10,274.07 400.70,274.07" fill="#000" stroke="#000" stroke-width="0.9"/>
<polygon points="403.37,273.77 400.07,267.77 406.67,267.77" fill="#000" stroke="#000" stroke-width="0.9"/>
<polygon points="409.34,248.57 406.04,242.57 412.64,242.57" fill="#000" stroke="#000" stroke-width="0.9"/>
<polygon points="415.31,227.47 412.01,221.47 418.61,221.47" fill="#000" stroke="#000" stroke-width="0.9"/>
<polygon points="421.28,232.19 417.98,226.19 424.58,226.19" fill="#000" stroke="#000" stroke-width="0.9"/>
<polygon points="427.25,243.53 423.95,237.53 430.55,237.53" fill="#000" stroke="#000" stroke-width="0.9"/>
<polygon points="433.22,248.57 429.92,242.57 436.52,242.57" fill="#000" stroke="#000" stroke-width="0.9"/>
<polygon points="439.19,253.30 435.89,247.30 442.49,247.30" fill="#000" stroke="#000" stroke-width="0.9"/>
<polygon points="445.16,257.07 441.86,251.07 448.46,251.07" fill="#000" stroke="#000" stroke-width="0.9"/>
<polygon points="451.13,257.07 447.83,251.07 454.43,251.07" fill="#000" stroke="#000" stroke-width="0.9"/>
<polygon points="457.10,255.50 453.80,249.50 460.40,249.50" fill="#000" stroke="#000" stroke-width="0.9"/>
<polygon points="463.07,253.30 459.77,247.30 466.37,247.30" fill="#000" stroke="#000" stroke-width="0.9"/>
<polygon points="469.04,250.15 465.74,244.15 472.34,244.15" fill="#000" stroke="#000" stroke-width="0.9"/>
<polygon points="475.01,246.05 471.71,240.05 478.31,240.05" fill="#000" stroke="#000" stroke-width="0.9"/>
<polygon points="480.98,242.27 477.68,236.27 484.28,236.27" fill="#000" stroke="#000" stroke-width="0.9"/>
<polygon points="486.95,237.23 483.65,231.23 490.25,231.23" fill="#000" stroke="#000" stroke-width="0.9"/>
<polygon points="492.92,232.19 489.62,226.19 496.22,226.19" fill="#000" stroke="#000" stroke-width="0.9"/>
<polygon points="498.89,227.15 495.59,221.15 502.19,221.15" fill="#000" stroke="#000" stroke-width="0.9"/>
<polygon points="504.86,222.11 501.56,216.11 508.16,216.11" fill="#000" stroke="#000" stroke-width="0.9"/>
<polygon points="510.83,215.18 507.53,209.18 514.13,209.18" fill="#000" stroke="#000" stroke-width="0.9"/>
</svg>
</body></html>
